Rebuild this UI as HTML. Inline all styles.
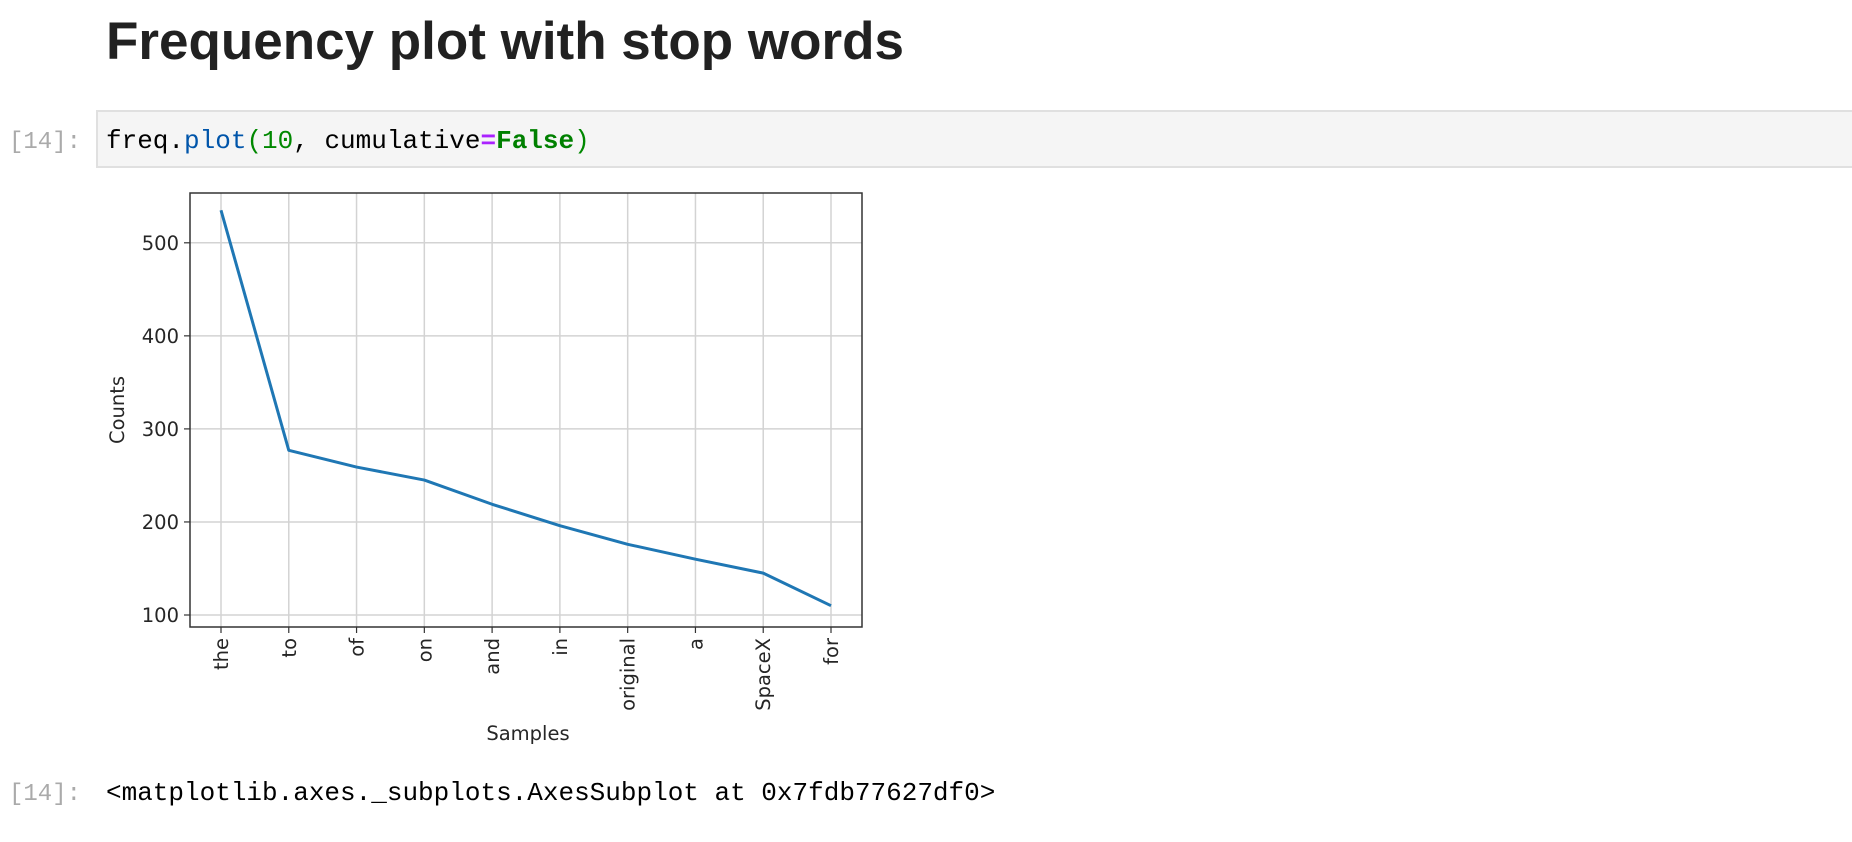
<!DOCTYPE html>
<html><head><meta charset="utf-8"><style>
html,body{margin:0;padding:0;background:#fff;width:1852px;height:842px;overflow:hidden}
svg{display:block}
.mono{font-family:"Liberation Mono","DejaVu Sans Mono",monospace}
.tick{font-family:"DejaVu Sans","Liberation Sans",sans-serif;font-size:19.5px;fill:#262626}
</style></head><body>
<svg id="page" width="1852" height="842" xmlns="http://www.w3.org/2000/svg">
  <text x="106" y="59" font-family="Liberation Sans, sans-serif" font-weight="bold" font-size="53" fill="#212121">Frequency plot with stop words</text>
  <text class="mono" x="9" y="148" font-size="24" fill="#aaaaaa">[14]:</text>
  <rect x="97" y="111" width="1760" height="56" fill="#f5f5f5" stroke="#e0e0e0" stroke-width="2"/>
  <text class="mono" x="106" y="148" font-size="26"><tspan fill="#000">freq.</tspan><tspan fill="#0055aa">plot</tspan><tspan fill="#008800">(10</tspan><tspan fill="#000">, cumulative</tspan><tspan fill="#aa22ff" font-weight="bold">=</tspan><tspan fill="#008000" font-weight="bold">False</tspan><tspan fill="#008800">)</tspan></text>
  <g id="chart"></g>
  <text class="mono" x="9" y="800" font-size="24" fill="#aaaaaa">[14]:</text>
  <text class="mono" x="106" y="800" font-size="26" fill="#000">&lt;matplotlib.axes._subplots.AxesSubplot at 0x7fdb77627df0&gt;</text>
</svg>
<script>
const categories = ["the","to","of","on","and","in","original","a","SpaceX","for"];
const counts = [535,277,259,245,219,196,176,160,145,110];
const yTicks = [100,200,300,400,500];

const L=190,R=862,T=193,B=627;
const x0=221,x1=831;
function xs(i){return x0+(x1-x0)*i/(categories.length-1);}
function ys(v){return 615+(100-v)*0.9305;}
const NS="http://www.w3.org/2000/svg";
const g=document.getElementById('chart');
function mk(tag,attrs,parent){const e=document.createElementNS(NS,tag);for(const k in attrs)e.setAttribute(k,attrs[k]);(parent||g).appendChild(e);return e;}

categories.forEach((c,i)=>{
  const gl=mk('line',{x1:xs(i),x2:xs(i),y1:T,y2:B,stroke:'#d3d3d3','stroke-width':1.5});
  
  
  const tk=mk('line',{x1:xs(i),x2:xs(i),y1:B,y2:B+6,stroke:'#333','stroke-width':1.2});
  
  
  const t=mk('text',{class:'tick',transform:`translate(${xs(i)+7},638) rotate(-90)`,'text-anchor':'end'});
  t.textContent=c;
  
  
});
yTicks.forEach(v=>{
  const gl=mk('line',{x1:L,x2:R,y1:ys(v),y2:ys(v),stroke:'#d3d3d3','stroke-width':1.5});
  
  
  const tk=mk('line',{x1:L-6,x2:L,y1:ys(v),y2:ys(v),stroke:'#333','stroke-width':1.2});
  
  
  const t=mk('text',{class:'tick',x:L-11,y:ys(v)+7,'text-anchor':'end'});
  t.textContent=v;
  
  
});
const frame=mk('rect',{x:L,y:T,width:R-L,height:B-T,fill:'none',stroke:'#333','stroke-width':1.5});


const line=mk('polyline',{points:counts.map((v,i)=>xs(i)+','+ys(v)).join(' '),fill:'none',stroke:'#1f77b4','stroke-width':3,'stroke-linejoin':'round'});


const xl=mk('text',{class:'tick',x:(L+R)/2+2,y:740,'text-anchor':'middle'});
xl.textContent='Samples';


const yl=mk('text',{class:'tick',transform:`translate(124,${(T+B)/2}) rotate(-90)`,'text-anchor':'middle'});
yl.textContent='Counts';


</script>
</body></html>
